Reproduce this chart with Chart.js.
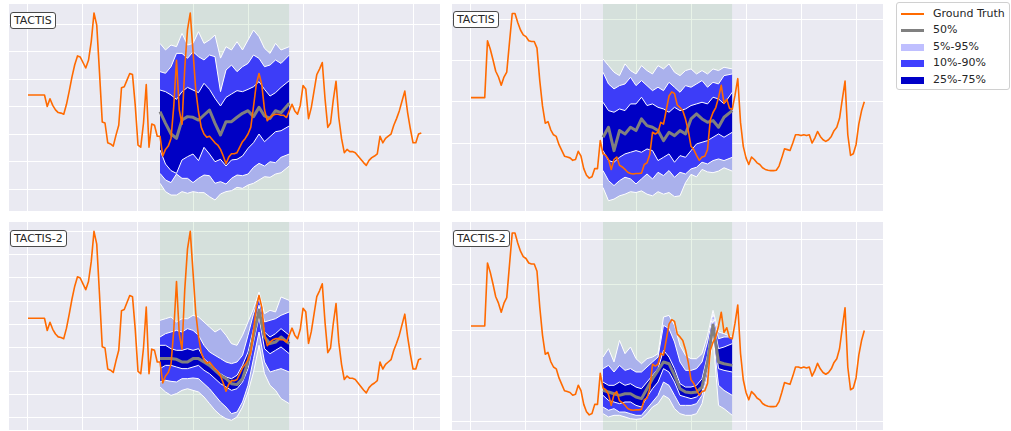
<!DOCTYPE html>
<html>
<head>
<meta charset="utf-8">
<script src="https://cdn.jsdelivr.net/npm/chart.js@4.4.1/dist/chart.umd.min.js"></script>
<style>
  html, body { margin: 0; padding: 0; background: #fff; }
  body { width: 1011px; height: 431px; position: relative; overflow: hidden;
         font-family: "DejaVu Sans", sans-serif; color: #262626; }
  canvas { position: absolute; }
  .tag { position: absolute; box-sizing: border-box; height: 17px; padding: 0 3px;
         line-height: 15px; font-size: 11px; background: #fff; border: 1px solid #4a4a4a;
         border-radius: 3px; white-space: nowrap; }
  .legend { position: absolute; left: 896px; top: 2px; width: 114px; height: 88px;
            box-sizing: border-box; border: 1px solid #d0d0d0; border-radius: 3px;
            background: #fff; font-size: 11px; }
  .row { position: absolute; left: 0; width: 112px; height: 14px; line-height: 14px; }
  .key { position: absolute; left: 4px; width: 23px; }
  .lab { position: absolute; left: 36px; top: 0; white-space: nowrap; }
</style>
</head>
<body>
<canvas id="c1" width="431" height="207" style="left:9px;top:4px"></canvas>
<canvas id="c2" width="431" height="207" style="left:452px;top:4px"></canvas>
<canvas id="c3" width="431" height="208" style="left:9px;top:222px"></canvas>
<canvas id="c4" width="431" height="208" style="left:452px;top:222px"></canvas>

<div class="tag" style="left:10px;top:12px">TACTIS</div>
<div class="tag" style="left:453px;top:11px">TACTIS</div>
<div class="tag" style="left:10px;top:230px">TACTIS-2</div>
<div class="tag" style="left:453px;top:230px">TACTIS-2</div>

<div class="legend">
  <div class="row" style="top:4px"><div class="key" style="top:6px;height:1.6px;background:#ff6a00"></div><span class="lab">Ground Truth</span></div>
  <div class="row" style="top:20px"><div class="key" style="top:5.5px;height:3px;background:#808080"></div><span class="lab">50%</span></div>
  <div class="row" style="top:37px"><div class="key" style="top:3.5px;height:7px;background:#bfbfff"></div><span class="lab">5%-95%</span></div>
  <div class="row" style="top:53px"><div class="key" style="top:3.5px;height:7px;background:#4040ff"></div><span class="lab">10%-90%</span></div>
  <div class="row" style="top:70px"><div class="key" style="top:3.5px;height:7px;background:#0000c8"></div><span class="lab">25%-75%</span></div>
</div>

<script>
// ---- observed series (one value per time step) ----
const truthA = [
  8.55, 8.55, 8.55, 8.55, 8.55, 8.55, 8.55, 7.5, 8.2, 7.6,
  7.2, 6.95, 6.9, 6.8, 7.7, 8.9, 10.2, 11.3, 12.1, 12.0,
  11.5, 11.0, 11.7, 13.4, 16.0, 14.9, 10.6, 6.1, 6.0, 4.2,
  4.1, 3.9, 4.9, 5.8, 9.2, 9.3, 9.9, 10.5, 10.4, 7.6,
  4.0, 3.8, 6.0, 9.5, 3.8, 5.9, 5.8, 4.8, 4.8, 3.0,
  3.6, 3.9, 4.6, 7.5, 11.7, 7.2, 5.9, 11.0, 14.5, 16.0,
  12.5, 9.0, 7.0, 5.6, 5.0, 4.7, 4.8, 4.5, 4.2, 4.0,
  3.6, 3.0, 2.3, 2.9, 3.2, 3.2, 3.3, 3.8, 4.3, 4.6,
  5.0, 5.6, 7.5, 9.5, 10.5, 9.5, 7.2, 6.2, 6.5, 6.7,
  6.8, 6.8, 6.7, 6.7, 6.5, 7.1, 7.7, 7.1, 6.8, 7.6,
  9.4, 9.1, 6.4, 7.4, 8.9, 10.4, 10.9, 11.5, 8.2, 5.6,
  6.0, 8.1, 9.8, 6.5, 4.6, 3.3, 3.6, 3.4, 3.4, 3.3,
  3.0, 2.7, 2.4, 2.15, 2.6, 2.85, 3.0, 3.2, 4.8, 4.2,
  4.6, 4.8, 5.0, 5.8, 6.4, 7.1, 8.0, 8.9, 7.0, 5.5,
  4.2, 4.2, 5.0, 5.1
];
const truthB = [
  10.5, 10.5, 10.5, 10.5, 10.5, 10.5, 17.4, 16.4, 15.1, 13.7,
  13.0, 12.0, 13.0, 13.6, 17.2, 20.7, 20.7, 19.6, 18.7, 18.1,
  17.9, 17.4, 17.3, 17.3, 16.5, 12.6, 9.5, 7.4, 7.6, 6.6,
  6.0, 5.8, 4.8, 4.1, 3.4, 3.3, 3.2, 2.9, 3.0, 4.0,
  3.4, 1.9, 1.1, 0.75, 0.9, 1.9, 1.9, 5.3, 3.7, 3.5,
  3.0, 1.8, 3.0, 3.3, 2.3, 2.1, 1.8, 1.45, 1.3, 1.25,
  1.3, 1.3, 1.35, 2.4, 2.6, 3.6, 6.3, 6.1, 6.3, 7.5,
  7.3, 9.0, 10.7, 11.2, 11.0, 9.6, 9.3, 8.9, 7.9, 6.5,
  4.6, 4.2, 3.5, 2.9, 3.3, 3.4, 4.2, 7.8, 8.7, 9.3,
  10.5, 12.0, 9.8, 10.3, 9.2, 9.1, 10.8, 12.8, 7.5, 4.6,
  3.2, 2.4, 3.3, 3.0, 2.6, 2.4, 2.0, 1.8, 1.7, 1.65,
  1.65, 1.7, 2.2, 3.2, 4.3, 4.2, 4.1, 5.0, 6.0, 6.0,
  5.9, 6.0, 5.9, 6.0, 5.0, 5.6, 6.4, 5.8, 5.4, 5.2,
  5.4, 5.8, 6.5, 6.9, 8.0, 10.3, 12.5, 6.0, 3.5, 3.7,
  4.8, 7.3, 8.9, 10.0
];

// ---- interpolation window and the time steps where quantiles are drawn ----
const windowSpan = [48, 95];
const bandX = [48, 50, 52, 54, 56, 58, 60, 62, 64, 66, 68, 70, 72, 74, 76, 78, 80, 82, 84, 86, 88, 90, 92, 95];

// ---- TACTIS, series A ----
const tactisA_p95 = [13.24, 12.64, 13.09, 12.94, 14.15, 13.09, 13.24, 14.3, 13.24, 13.55, 14.0, 11.9, 12.94, 12.64, 13.39, 12.64, 13.55, 14.45, 13.85, 12.79, 12.33, 13.24, 12.64, 12.94];
const tactisA_p90 = [10.67, 10.52, 11.12, 12.33, 12.33, 11.88, 12.48, 12.03, 11.73, 12.18, 12.03, 8.85, 10.82, 11.27, 10.67, 11.12, 11.42, 12.18, 11.88, 11.12, 11.27, 11.73, 11.42, 12.18];
const tactisA_p75 = [9.0, 8.85, 8.55, 8.15, 8.85, 9.24, 9.0, 8.76, 9.61, 9.06, 8.24, 7.55, 8.33, 8.64, 8.94, 8.85, 9.06, 9.3, 9.76, 9.06, 8.45, 8.76, 9.24, 9.85];
const tactisA_p50 = [7.03, 5.97, 5.0, 4.61, 6.27, 6.58, 6.52, 6.27, 6.73, 7.18, 5.97, 4.91, 6.12, 6.12, 6.52, 6.88, 7.12, 6.58, 7.42, 6.64, 6.42, 7.12, 6.94, 7.79];
const tactisA_p25 = [3.55, 2.27, 1.67, 1.42, 2.64, 2.94, 3.18, 2.58, 3.79, 3.18, 2.48, 2.7, 2.09, 2.64, 2.7, 3.0, 3.7, 4.21, 5.0, 4.3, 4.76, 5.21, 5.3, 5.73];
const tactisA_p10 = [1.42, 0.82, 0.58, 1.36, 0.97, 0.97, 0.58, 0.97, 1.27, 1.21, 0.52, 0.67, 0.45, 0.97, 1.27, 1.21, 1.36, 1.97, 2.33, 2.09, 2.48, 2.39, 2.88, 3.18];
const tactisA_p5  = [0.52, -0.24, -0.55, -0.55, -0.24, -0.39, -0.24, -0.33, -0.33, -0.7, -1.0, -0.45, -0.24, -0.15, 0.15, 0.06, 0.36, 0.52, 0.82, 1.12, 1.06, 1.36, 1.48, 2.09];

// ---- TACTIS, series B ----
const tactisB_p95 = [15.19, 14.38, 13.58, 13.17, 14.59, 13.78, 13.37, 14.38, 13.78, 13.37, 14.38, 13.98, 14.59, 13.58, 13.17, 13.78, 13.98, 13.37, 13.78, 13.37, 13.98, 13.78, 14.18, 13.98];
const tactisB_p90 = [13.58, 12.16, 11.56, 11.96, 12.16, 12.97, 11.96, 12.57, 11.96, 11.35, 11.76, 11.35, 12.36, 11.76, 11.15, 11.96, 11.76, 12.16, 12.57, 11.76, 12.36, 12.16, 13.17, 13.37];
const tactisB_p75 = [9.94, 8.93, 8.73, 9.13, 8.93, 9.74, 9.74, 10.55, 9.54, 9.74, 9.33, 9.13, 8.73, 9.33, 8.93, 9.13, 9.54, 9.74, 9.94, 9.74, 10.55, 10.34, 9.74, 11.15];
const tactisB_p50 = [5.7, 6.91, 4.08, 6.51, 6.1, 6.91, 6.51, 7.92, 7.11, 6.91, 6.51, 5.29, 6.3, 5.9, 6.51, 6.1, 7.92, 8.53, 7.92, 7.52, 7.72, 6.91, 8.12, 8.93];
const tactisB_p25 = [4.08, 2.87, 2.67, 3.27, 3.68, 3.88, 4.08, 3.88, 4.28, 4.08, 2.87, 3.27, 3.68, 2.67, 3.47, 3.27, 4.08, 4.89, 5.09, 5.29, 5.7, 6.1, 5.7, 6.3];
const tactisB_p10 = [1.66, 0.44, -0.16, 0.44, 0.85, 0.65, 0.04, 0.65, 1.25, 0.65, 1.45, 1.05, 1.66, 0.85, 1.45, 1.25, 1.86, 2.06, 2.67, 2.46, 2.87, 3.07, 2.87, 3.27];
const tactisB_p5  = [-0.4, -2.0, -1.8, -1.4, -1.2, -0.9, -1.0, -0.8, -1.2, -1.4, -0.9, -1.2, -1.0, -1.5, -1.4, 0.2, 1.2, 0.9, 1.8, 1.5, 1.4, 1.6, 2.0, 1.6];

// ---- TACTIS-2, series A ----
const tactis2A_p95 = [8.37, 8.51, 8.66, 8.23, 8.51, 8.51, 8.8, 8.66, 8.23, 7.8, 7.37, 7.66, 7.09, 6.37, 6.23, 7.09, 8.23, 9.37, 10.8, 8.94, 9.23, 9.09, 10.37, 10.08];
const tactis2A_p90 = [6.94, 7.23, 7.37, 7.51, 7.37, 7.66, 7.51, 7.09, 6.23, 5.66, 5.37, 5.09, 4.8, 4.66, 4.8, 5.37, 7.09, 8.94, 10.23, 8.23, 8.37, 8.51, 8.8, 9.09];
const tactis2A_p75 = [6.23, 6.23, 5.94, 5.8, 5.8, 5.94, 5.8, 5.94, 5.09, 4.66, 4.23, 3.8, 3.51, 3.37, 3.66, 4.51, 5.66, 7.66, 9.66, 7.37, 6.94, 7.23, 7.66, 7.09];
const tactis2A_p50 = [5.09, 5.09, 5.09, 5.03, 4.8, 4.8, 5.09, 5.09, 4.8, 4.51, 4.09, 3.66, 3.37, 2.94, 2.86, 3.37, 4.8, 7.09, 9.23, 6.94, 6.37, 6.51, 6.94, 6.37];
const tactis2A_p25 = [4.23, 4.51, 4.51, 4.37, 4.23, 4.23, 4.37, 4.51, 4.09, 3.8, 3.37, 2.94, 2.66, 2.37, 2.51, 3.09, 4.23, 6.51, 8.66, 5.94, 5.51, 5.8, 6.09, 5.51];
const tactis2A_p10 = [3.09, 3.23, 3.14, 3.09, 3.37, 3.37, 3.43, 3.37, 2.94, 2.51, 1.94, 1.37, 0.94, 0.37, 0.51, 1.37, 2.8, 5.09, 7.37, 4.8, 3.94, 4.09, 4.23, 3.94];
const tactis2A_p5  = [2.66, 2.23, 1.94, 2.09, 2.37, 2.51, 2.37, 2.23, 1.8, 1.23, 0.66, 0.23, -0.06, -0.2, 0.09, 0.94, 2.23, 3.94, 6.23, 3.8, 2.8, 2.37, 1.66, 1.23];

// ---- TACTIS-2, series B ----
const tactis2B_p95 = [7.09, 8.01, 6.55, 8.92, 7.46, 8.19, 6.91, 6.36, 6.91, 7.09, 7.46, 11.48, 11.66, 10.57, 8.37, 7.28, 6.91, 6.91, 7.46, 9.47, 12.21, 9.84, 9.65, 9.29];
const tactis2B_p90 = [5.82, 6.18, 5.45, 6.18, 5.63, 5.82, 5.45, 5.45, 6.0, 6.55, 7.09, 10.57, 10.2, 8.74, 6.55, 5.63, 5.63, 5.82, 6.55, 8.74, 11.85, 9.1, 9.29, 9.29];
const tactis2B_p75 = [4.35, 3.99, 3.99, 4.35, 3.99, 4.17, 3.8, 3.62, 4.35, 5.08, 5.82, 7.83, 7.09, 5.82, 4.17, 3.8, 3.8, 3.99, 4.72, 7.28, 11.3, 8.01, 8.19, 8.56];
const tactis2B_p50 = [3.44, 3.26, 3.07, 2.89, 3.07, 3.07, 2.71, 2.53, 3.62, 4.72, 5.63, 6.55, 6.36, 5.08, 3.62, 3.26, 3.18, 3.26, 3.8, 6.55, 10.57, 6.55, 6.36, 6.18];
const tactis2B_p25 = [2.89, 2.34, 2.16, 1.98, 2.16, 2.16, 1.79, 1.61, 2.71, 3.62, 4.35, 5.82, 5.45, 4.35, 2.89, 2.71, 2.53, 2.71, 3.26, 5.82, 10.2, 5.82, 5.63, 5.45];
const tactis2B_p10 = [1.61, 1.25, 1.43, 1.06, 1.06, 0.88, 0.7, 0.7, 1.43, 2.16, 2.89, 4.35, 3.99, 2.89, 1.79, 1.79, 1.79, 1.98, 2.89, 5.08, 9.47, 3.99, 3.44, 2.89];
const tactis2B_p5  = [0.88, 0.52, 0.7, 0.7, 0.52, 0.33, 0.26, 0.33, 0.88, 1.61, 1.98, 2.89, 2.53, 1.43, 0.88, 0.7, 0.7, 0.88, 1.98, 4.72, 9.1, 1.79, 1.43, 0.7];

// ---- axis ticks (grid positions) and limits ----
const xTicks = [0, 20, 40, 60, 80, 100, 120, 140];
const xLimits = [-6.9, 149.8];
const yTicksA1 = [0, 2.5, 5, 7.5, 10, 12.5, 15];
const yTicksA2 = [0, 2, 4, 6, 8, 10, 12, 14, 16];
const yTicksB = [0, 5, 10, 15, 20];

// ---- colours ----
const ORANGE = '#ff6a00';
const MEDIAN = '#808080';
const BAND_LIGHT = '#aab1ec';
const BAND_MID = '#3d3df8';
const BAND_DARK = '#0000c4';
const WINDOW_FILL = 'rgba(34, 139, 34, 0.1)';
const PANEL_BG = '#eaeaf2';

const panelBackground = {
  id: 'panelBackground',
  beforeDraw(chart) {
    const { ctx, chartArea: a } = chart;
    ctx.save();
    ctx.fillStyle = PANEL_BG;
    ctx.fillRect(a.left, a.top, a.right - a.left, a.bottom - a.top);
    ctx.restore();
  }
};

function pts(xs, ys) { return ys.map((y, i) => ({ x: xs[i], y })); }
function series(ys) { return ys.map((y, i) => ({ x: i, y })); }

function edge(data, fillColor) {
  return {
    data, borderColor: '#ffffff', borderWidth: 1, pointRadius: 0, tension: 0,
    fill: fillColor ? '+1' : false, backgroundColor: fillColor || 'transparent'
  };
}

function drawPanel(id, truth, q, yLimits, yTicks) {
  const datasets = [
    { data: series(truth), borderColor: ORANGE, borderWidth: 1.6, pointRadius: 0, tension: 0, fill: false,
      borderJoinStyle: 'round' },
    { data: pts(bandX, q.p50), borderColor: MEDIAN, borderWidth: 3, pointRadius: 0, tension: 0, fill: false,
      borderJoinStyle: 'round' },
    edge(pts(bandX, q.p75), BAND_DARK),
    edge(pts(bandX, q.p25)),
    edge(pts(bandX, q.p90), BAND_MID),
    edge(pts(bandX, q.p10)),
    edge(pts(bandX, q.p95), BAND_LIGHT),
    edge(pts(bandX, q.p5)),
    { data: windowSpan.map(x => ({ x, y: yLimits[1] })), borderWidth: 0, pointRadius: 0,
      fill: 'start', backgroundColor: WINDOW_FILL }
  ];
  const ticksFrom = list => scale => { scale.ticks = list.map(v => ({ value: v })); };
  new Chart(document.getElementById(id), {
    type: 'line',
    data: { datasets },
    options: {
      responsive: false, animation: false, devicePixelRatio: 1, events: [],
      layout: { padding: 0 },
      plugins: { legend: { display: false }, tooltip: { enabled: false },
                 filler: { propagate: false, drawTime: 'beforeDatasetsDraw' } },
      scales: {
        x: { type: 'linear', min: xLimits[0], max: xLimits[1], afterBuildTicks: ticksFrom(xTicks),
             grid: { color: '#ffffff', lineWidth: 1, drawTicks: false }, border: { display: false },
             ticks: { display: false } },
        y: { type: 'linear', min: yLimits[0], max: yLimits[1], afterBuildTicks: ticksFrom(yTicks),
             grid: { color: '#ffffff', lineWidth: 1, drawTicks: false }, border: { display: false },
             ticks: { display: false } }
      }
    },
    plugins: [panelBackground]
  });
}

drawPanel('c1', truthA, { p5: tactisA_p5, p10: tactisA_p10, p25: tactisA_p25, p50: tactisA_p50,
  p75: tactisA_p75, p90: tactisA_p90, p95: tactisA_p95 }, [-2.0, 16.82], yTicksA1);
drawPanel('c2', truthB, { p5: tactisB_p5, p10: tactisB_p10, p25: tactisB_p25, p50: tactisB_p50,
  p75: tactisB_p75, p90: tactisB_p90, p95: tactisB_p95 }, [-3.24, 21.85], yTicksB);
drawPanel('c3', truthA, { p5: tactis2A_p5, p10: tactis2A_p10, p25: tactis2A_p25, p50: tactis2A_p50,
  p75: tactis2A_p75, p90: tactis2A_p90, p95: tactis2A_p95 }, [-1.03, 16.8], yTicksA2);
drawPanel('c4', truthB, { p5: tactis2B_p5, p10: tactis2B_p10, p25: tactis2B_p25, p50: tactis2B_p50,
  p75: tactis2B_p75, p90: tactis2B_p90, p95: tactis2B_p95 }, [-0.91, 21.9], yTicksB);
</script>
</body>
</html>
